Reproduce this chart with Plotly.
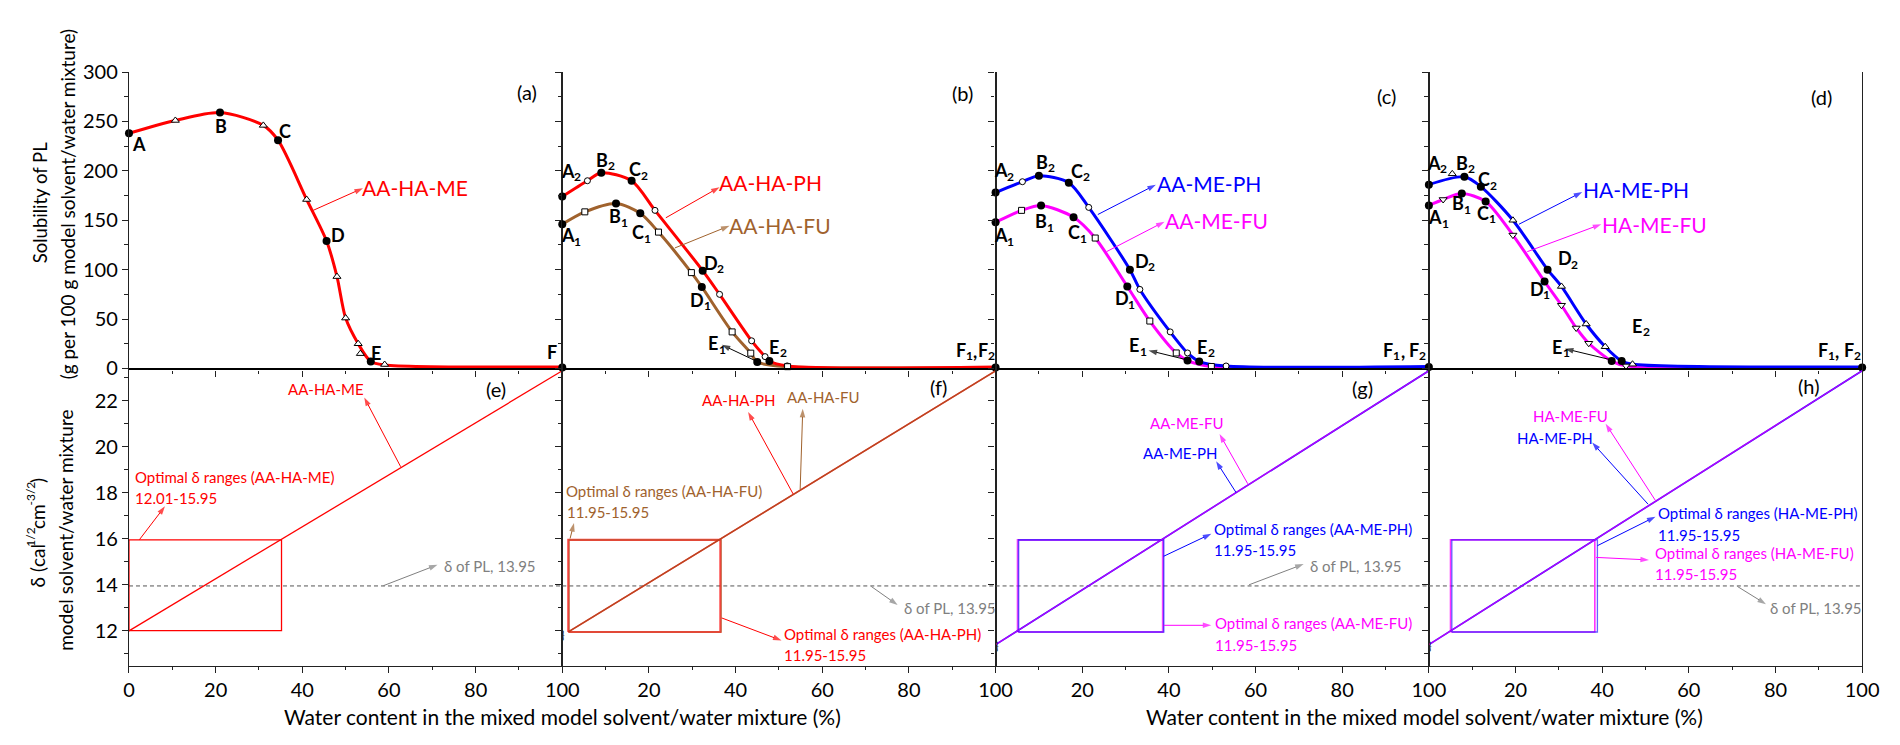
import plotly.graph_objects as go

W, H = 1900, 745
FONT = "Lato, 'Open Sans', sans-serif"
RED, BROWN, BLUE, MAG, GRAY = "#FF0000", "#A0622D", "#0000FF", "#FF00FF", "#808080"

# ---------------- solubility curves (upper row) ----------------
# (a) AA-HA-ME
a_curve_x = [0, 10.7, 21, 31, 34.4, 41, 45.6, 48, 50, 52.9, 55.8, 59, 100]
a_curve_y = [238, 251, 259, 246, 231, 171, 129, 93, 51, 25, 7, 3.5, 1.5]
a_key_x = [0, 21, 34.4, 45.6, 55.8, 100]
a_key_y = [238, 259, 231, 129, 7, 1]
a_exp_x = [10.7, 31, 41, 48, 50, 52.9, 53.4, 59]
a_exp_y = [251, 246, 171, 93, 51, 25, 15, 4]

# (b) AA-HA-PH / AA-HA-FU
b_ph_x = [0, 5.8, 9, 16, 21.4, 32.4, 36.3, 43.7, 46.8, 47.8, 51.9, 100]
b_ph_y = [174, 190, 198, 190, 160, 99, 75, 28, 12, 7.5, 2.6, 1.5]
b_fu_x = [0, 5.2, 12.4, 18, 22.2, 29.8, 32.2, 39.2, 43.5, 45, 52, 100]
b_fu_y = [146, 158.5, 167, 157, 138, 97, 82.5, 37, 15.5, 6.5, 1.8, 1]
b_key_x = [0, 9, 16, 32.4, 47.8, 0, 12.4, 18, 32.2, 45, 100]
b_key_y = [174, 198, 190, 99, 7.5, 146, 167, 157, 82.5, 6.5, 1]
b_ph_exp_x = [5.8, 21.4, 36.3, 43.7, 46.8, 51.9]
b_ph_exp_y = [190, 160, 75, 28, 12, 2.6]
b_fu_exp_x = [5.2, 22.2, 29.8, 39.2, 43.5, 52]
b_fu_exp_y = [158.5, 138, 97, 37, 15.5, 1.8]

# (c) AA-ME-PH / AA-ME-FU
c_ph_x = [0, 6.2, 10, 16.9, 21.5, 31, 33.3, 40.3, 44.3, 47, 53.2, 100]
c_ph_y = [178, 189, 195, 188, 163, 100, 80, 37, 15.7, 7, 2.5, 2]
c_fu_x = [0, 6, 10.5, 18, 23, 30.4, 35.6, 41.7, 44.3, 49.8, 100]
c_fu_y = [148, 160, 165, 153, 132, 83, 48, 15.7, 8, 2, 1]
c_key_x = [0, 10, 16.9, 31, 47, 0, 10.5, 18, 30.4, 44.3, 100]
c_key_y = [178, 195, 188, 100, 7, 148, 165, 153, 83, 8, 1.5]
c_ph_exp_x = [6.2, 21.5, 33.3, 40.3, 44.3, 53.2]
c_ph_exp_y = [189, 163, 80, 37, 15.7, 2.5]
c_fu_exp_x = [6, 23, 35.6, 41.7, 49.8]
c_fu_exp_y = [160, 132, 48, 15.7, 2]

# (d) HA-ME-PH / HA-ME-FU
d_ph_x = [0, 8.2, 12, 19.4, 27.4, 30.6, 36.3, 40.7, 44.5, 47, 100]
d_ph_y = [186, 194, 184, 150, 100, 83, 45, 22, 7.5, 4.3, 1.5]
d_fu_x = [0, 3.3, 7.6, 13.1, 19.4, 26.7, 30.6, 34, 36.9, 42.2, 45.5, 100]
d_fu_y = [165, 171, 177, 169, 135, 88, 64, 41, 25.5, 7.5, 2.6, 1]
d_key_x = [0, 8.2, 12, 27.4, 44.5, 0, 7.6, 13.1, 26.7, 42.2, 100]
d_key_y = [186, 194, 184, 100, 7.5, 165, 177, 169, 88, 7.5, 1]
d_ph_exp_x = [5.4, 19.4, 30.6, 36.3, 40.7, 47]
d_ph_exp_y = [197, 150, 83, 45, 22, 4.3]
d_fu_exp_x = [3.3, 19.4, 30.6, 34, 36.9, 45.5]
d_fu_exp_y = [171, 135, 64, 41, 25.5, 2.6]

# ---------------- solubility parameter lines (lower row) ----------------
water_ends = [0, 100]
water_ends_f = [1.4, 100]
delta_AA_HA_ME = [12.0, 23.3]
delta_AA_HA_PH = [11.95, 23.3]
delta_AA_HA_FU = [11.95, 23.3]
delta_AA_ME_PH = [11.4, 23.3]
delta_AA_ME_FU = [11.4, 23.3]
delta_HA_ME_PH = [11.4, 23.3]
delta_HA_ME_FU = [11.4, 23.3]
delta_PL = 13.95

opt_water_AA_HA_ME = [0, 35.2]
opt_delta_AA_HA_ME = [12.01, 15.95]
opt_water_AA_HA_PH = [1.4, 36.5]
opt_water_AA_HA_FU = [1.6, 36.7]
opt_water_AA_ME_PH = [5.3, 38.8]
opt_water_AA_ME_FU = [5.1, 38.6]
opt_water_HA_ME_PH = [5.3, 38.9]
opt_water_HA_ME_FU = [5.0, 38.3]
opt_delta = [11.95, 15.95]

x_ticks = [0, 20, 40, 60, 80, 100]

# ---------------- geometry ----------------
X0, PW = 124.5, 438.6
Y_TOP, Y_MID, Y_BOT = 61.0, 367.3, 674.3
SOL_RANGE = [0, 300]
DELTA_RANGE = [10.49, 23.40]

fig = go.Figure()


def ax_name(kind, i):
    return kind + ("axis" if i == 1 else f"axis{i}")


def ref(kind, i):
    return kind if i == 1 else f"{kind}{i}"


layout = {}
tick_common = dict(ticks="outside", ticklen=6, tickwidth=1.2, tickcolor="#222",
                   showline=True, linecolor="#222", linewidth=1.3,
                   showgrid=False, zeroline=False,
                   tickfont=dict(family=FONT, size=20, color="black"))

for p in range(4):
    xd = [(X0 + p * PW) / W, (X0 + (p + 1) * PW) / W]
    top_i, bot_i = p + 1, p + 5
    # upper row
    layout[ax_name("x", top_i)] = dict(
        tick_common, domain=xd, anchor=ref("y", top_i), range=[0, 100],
        tickmode="linear", tick0=0, dtick=20, showticklabels=False,
        linewidth=2.2, linecolor="black",
        minor=dict(dtick=10, ticks="outside", ticklen=3.5, tickwidth=1, tickcolor="#222"))
    layout[ax_name("y", top_i)] = dict(
        tick_common, domain=[1 - Y_MID / H, 1 - Y_TOP / H], anchor=ref("x", top_i),
        range=SOL_RANGE, tickmode="linear", tick0=0, dtick=50,
        showticklabels=(p == 0), mirror=True,
        minor=dict(dtick=25, ticks="outside", ticklen=3.5, tickwidth=1, tickcolor="#222"))
    # lower row: the first column labels 0..100, the others start at 20
    tv = x_ticks if p == 0 else x_ticks[1:]
    layout[ax_name("x", bot_i)] = dict(
        tick_common, domain=xd, anchor=ref("y", bot_i), range=[0, 100],
        tickmode="array", tickvals=tv, ticktext=[str(v) for v in tv],
        minor=dict(dtick=10, tick0=0, ticks="outside", ticklen=3.5, tickwidth=1, tickcolor="#222"))
    layout[ax_name("y", bot_i)] = dict(
        tick_common, domain=[1 - Y_BOT / H, 1 - Y_MID / H], anchor=ref("x", bot_i),
        range=DELTA_RANGE, tickmode="linear", tick0=0, dtick=2,
        showticklabels=(p == 0), mirror=True,
        minor=dict(dtick=1, tick0=0, ticks="outside", ticklen=3.5, tickwidth=1, tickcolor="#222"))
    # top edge of the upper row with inward ticks
    layout[ax_name("x", 9 + p)] = dict(
        tick_common, overlaying=ref("x", top_i), anchor=ref("y", top_i), side="top",
        range=[0, 100], tickmode="linear", tick0=0, dtick=20, ticks="inside",
        showticklabels=False,
        minor=dict(dtick=10, ticks="inside", ticklen=3.5, tickwidth=1, tickcolor="#222"))

# right edge of the last column with inward ticks
layout[ax_name("y", 9)] = dict(
    tick_common, overlaying="y4", anchor="x4", side="right", range=SOL_RANGE,
    tickmode="linear", tick0=0, dtick=50, ticks="inside", showticklabels=False,
    minor=dict(dtick=25, ticks="inside", ticklen=3.5, tickwidth=1, tickcolor="#222"))
layout[ax_name("y", 10)] = dict(
    tick_common, overlaying="y8", anchor="x8", side="right", range=DELTA_RANGE,
    tickmode="linear", tick0=0, dtick=2, ticks="inside", showticklabels=False,
    minor=dict(dtick=1, tick0=0, ticks="inside", ticklen=3.5, tickwidth=1, tickcolor="#222"))


def curve(i, x, y, color, width=3):
    fig.add_trace(go.Scatter(x=x, y=y, mode="lines", xaxis=ref("x", i), yaxis=ref("y", i),
                             line=dict(color=color, width=width, shape="spline", smoothing=0.8),
                             showlegend=False, hoverinfo="skip"))


def open_pts(i, x, y, symbol, size=7):
    fig.add_trace(go.Scatter(x=x, y=y, mode="markers", xaxis=ref("x", i), yaxis=ref("y", i),
                             marker=dict(symbol=symbol, size=size, color="white",
                                         line=dict(color="black", width=1)),
                             showlegend=False, hoverinfo="skip", cliponaxis=False))


def key_pts(i, x, y):
    fig.add_trace(go.Scatter(x=x, y=y, mode="markers", xaxis=ref("x", i), yaxis=ref("y", i),
                             marker=dict(symbol="circle", size=8, color="black"),
                             showlegend=False, hoverinfo="skip", cliponaxis=False))


def straight(i, x, y, color, width=1.4, opacity=1.0, dash=None):
    fig.add_trace(go.Scatter(x=x, y=y, mode="lines", xaxis=ref("x", i), yaxis=ref("y", i),
                             line=dict(color=color, width=width, dash=dash), opacity=opacity,
                             showlegend=False, hoverinfo="skip", cliponaxis=False))


def box(i, wx, dy, color, width=1.4, opacity=1.0):
    straight(i, [wx[0], wx[1], wx[1], wx[0], wx[0]], [dy[0], dy[0], dy[1], dy[1], dy[0]],
             color, width, opacity)


def arr(i, x0, y0, x1, y1, color, width=1):
    """Pointer line from (x0, y0) with an arrow head at (x1, y1)."""
    fig.add_trace(go.Scatter(x=[x0, x1], y=[y0, y1], mode="lines+markers",
                             xaxis=ref("x", i), yaxis=ref("y", i),
                             line=dict(color=color, width=width),
                             marker=dict(symbol="arrow", size=[0, 9], color=color,
                                         angleref="previous", line=dict(width=0)),
                             showlegend=False, hoverinfo="skip", cliponaxis=False))


# upper row
curve(1, a_curve_x, a_curve_y, RED)
open_pts(1, a_exp_x, a_exp_y, "triangle-up")
key_pts(1, a_key_x, a_key_y)

curve(2, b_fu_x, b_fu_y, BROWN)
curve(2, b_ph_x, b_ph_y, RED)
open_pts(2, b_ph_exp_x, b_ph_exp_y, "circle", 6)
open_pts(2, b_fu_exp_x, b_fu_exp_y, "square", 6)
key_pts(2, b_key_x, b_key_y)

curve(3, c_fu_x, c_fu_y, MAG)
curve(3, c_ph_x, c_ph_y, BLUE)
open_pts(3, c_ph_exp_x, c_ph_exp_y, "circle", 6)
open_pts(3, c_fu_exp_x, c_fu_exp_y, "square", 6)
key_pts(3, c_key_x, c_key_y)

curve(4, d_fu_x, d_fu_y, MAG)
curve(4, d_ph_x, d_ph_y, BLUE)
open_pts(4, d_ph_exp_x, d_ph_exp_y, "triangle-up", 7)
open_pts(4, d_fu_exp_x, d_fu_exp_y, "triangle-down", 7)
key_pts(4, d_key_x, d_key_y)

# lower row
for i in range(5, 9):
    straight(i, water_ends, [delta_PL, delta_PL], "#555555", 1, dash="4px,3px")

straight(5, water_ends, delta_AA_HA_ME, RED, 1.3)
box(5, opt_water_AA_HA_ME, opt_delta_AA_HA_ME, RED, 1.3)

box(6, opt_water_AA_HA_PH, opt_delta, RED, 2.2, 0.75)
box(6, opt_water_AA_HA_FU, opt_delta, BROWN, 1.2, 0.6)
straight(6, water_ends_f, delta_AA_HA_PH, RED, 1.5)
straight(6, water_ends_f, delta_AA_HA_FU, BROWN, 1.5, 0.7)

box(7, opt_water_AA_ME_FU, opt_delta, MAG, 2, 0.7)
box(7, opt_water_AA_ME_PH, opt_delta, BLUE, 1.6, 0.6)
straight(7, water_ends, delta_AA_ME_PH, BLUE, 1.6)
straight(7, water_ends, delta_AA_ME_FU, MAG, 1.4, 0.7)

box(8, opt_water_HA_ME_FU, opt_delta, MAG, 1.6, 0.8)
box(8, opt_water_HA_ME_PH, opt_delta, BLUE, 1.3, 0.6)
straight(8, water_ends, delta_HA_ME_PH, BLUE, 1.6)
straight(8, water_ends, delta_HA_ME_FU, MAG, 1.4, 0.7)

# ---------------- annotations ----------------
ann = []


def txt(i, x, y, text, color="black", size=17, bold=False, xanchor="center", dx=0, dy=0):
    if bold:
        text = f"<b>{text}</b>"
    ann.append(dict(x=x, y=y, xref=ref("x", i), yref=ref("y", i), text=text, showarrow=False,
                    xanchor=xanchor, yanchor="middle", xshift=dx, yshift=dy,
                    font=dict(family=FONT, size=size, color=color)))


def paper_txt(px, py, text, size=20, angle=0, color="black"):
    ann.append(dict(x=px / W, y=1 - py / H, xref="paper", yref="paper", text=text,
                    showarrow=False, xanchor="center", yanchor="middle", textangle=angle,
                    font=dict(family=FONT, size=size, color=color)))


LET, SUB = 18, 12


def point_label(i, x, y, letter, n=None):
    """Bold point letter with an optional subscript index."""
    if n is None:
        txt(i, x, y, letter, size=LET, bold=True)
    else:
        txt(i, x, y, letter, size=LET, bold=True, dx=-3.5)
        txt(i, x, y, str(n), size=SUB, bold=True, dx=6.2, dy=-6)


def pair_label(i, x, y, spaced=True):
    """Bold 'F1, F2' label for the end points of two curves."""
    offs = [-16.5, -7.8, -2, 9.5, 18.2] if spaced else [-14.5, -5.8, 0, 7.5, 16.2]
    txt(i, x, y, "F", size=LET, bold=True, dx=offs[0])
    txt(i, x, y, "1", size=SUB, bold=True, dx=offs[1], dy=-6)
    txt(i, x, y, ",", size=LET, bold=True, dx=offs[2], dy=-1)
    txt(i, x, y, "F", size=LET, bold=True, dx=offs[3])
    txt(i, x, y, "2", size=SUB, bold=True, dx=offs[4], dy=-6)


# point letters
for lab, x, y in [("A", 2.2, 227.6), ("B", 21.3, 245), ("C", 36, 240), ("D", 48.3, 135.5),
                  ("E", 57, 16), ("F", 97.6, 17)]:
    point_label(1, x, y, lab)

for i, pts in [
    (2, [("A", 2, 2.1, 200), ("B", 2, 10, 211), ("C", 2, 17.5, 201.5),
         ("A", 1, 2.1, 134.6), ("B", 1, 12.9, 154), ("C", 1, 18.2, 137.8),
         ("D", 2, 35.1, 106.9), ("D", 1, 32, 69.3), ("E", 1, 35.6, 25.3),
         ("E", 2, 49.7, 22)]),
    (3, [("A", 2, 2.1, 200.8), ("B", 2, 11.5, 209), ("C", 2, 19.5, 200),
         ("A", 1, 2.1, 135), ("B", 1, 11.3, 149), ("C", 1, 18.8, 137.8),
         ("D", 2, 34.5, 109), ("D", 1, 30, 71), ("E", 1, 32.7, 23.7),
         ("E", 2, 48.4, 22)]),
    (4, [("A", 2, 2, 208), ("B", 2, 8.4, 208), ("C", 2, 13.5, 191.6),
         ("A", 1, 2.3, 153), ("B", 1, 7.6, 167), ("C", 1, 13.2, 157.4),
         ("D", 2, 32.2, 111.7), ("D", 1, 25.8, 80.7), ("E", 2, 48.9, 43.2),
         ("E", 1, 30.3, 22)]),
]:
    for lab, n, x, y in pts:
        point_label(i, x, y, lab, n)

pair_label(2, 95.3, 18.8, spaced=False)
pair_label(3, 94.4, 18.8)
pair_label(4, 94.7, 18.8)

arr(2, 44.5, 8, 36.8, 24, "black")
arr(3, 44.1, 8.8, 35.3, 18.3, "black")
arr(4, 42, 8.8, 31.4, 20, "black")

# system names with pointers (upper row)
txt(1, 66.1, 183.5, "AA-HA-ME", RED, 21)
arr(1, 42.5, 160, 54, 182.5, RED)
txt(2, 48, 188.4, "AA-HA-PH", RED, 21)
arr(2, 23.9, 152.5, 36.3, 183.5, RED)
txt(2, 50.3, 144.4, "AA-HA-FU", BROWN, 21)
arr(2, 26, 122, 38.6, 144.4, BROWN)
txt(3, 49.2, 186.7, "AA-ME-PH", BLUE, 21)
arr(3, 23.6, 155.8, 37, 186, BLUE)
txt(3, 51, 149.3, "AA-ME-FU", MAG, 21)
arr(3, 25.6, 118.2, 39, 148.6, MAG)
txt(4, 47.8, 180.9, "HA-ME-PH", BLUE, 21)
arr(4, 20.8, 146, 35.4, 178.6, BLUE)
txt(4, 52.1, 146, "HA-ME-FU", MAG, 21)
arr(4, 22.7, 118.2, 39.8, 146, MAG)

# axis break marks on the lower-row left edges
for i, y in [(6, 11.85), (7, 11.35), (8, 11.35)]:
    txt(i, 0, y, "}", "#222", 12, dx=1)

# lower row labels
S = 15
txt(5, 45.4, 22.49, "AA-HA-ME", RED, S)
arr(5, 62.7, 19.13, 54.3, 22.14, RED)
txt(5, 0.9, 18.67, "Optimal δ ranges (AA-HA-ME)", RED, S, xanchor="left")
txt(5, 0.9, 17.77, "12.01-15.95", RED, S, xanchor="left")
arr(5, 2.4, 15.96, 8.3, 17.41, RED)
txt(5, 72.3, 14.8, "δ of PL, 13.95", GRAY, S, xanchor="left")
arr(5, 58.7, 13.96, 71.2, 14.87, GRAY)

txt(6, 40.7, 22.03, "AA-HA-PH", RED, S)
arr(6, 53.3, 17.94, 42.9, 21.51, RED)
txt(6, 60.4, 22.14, "AA-HA-FU", BROWN, S)
arr(6, 54.9, 18.15, 55.5, 21.65, BROWN)
txt(6, 0.5, 18.08, "Optimal δ ranges (AA-HA-FU)", BROWN, S, xanchor="left")
txt(6, 0.7, 17.17, "11.95-15.95", BROWN, S, xanchor="left")
arr(6, 1.8, 16.01, 2.7, 16.68, BROWN)
txt(6, 50.7, 11.86, "Optimal δ ranges (AA-HA-PH)", RED, S, xanchor="left")
txt(6, 50.7, 10.95, "11.95-15.95", RED, S, xanchor="left")
arr(6, 36.8, 12.56, 50.6, 11.58, RED)
txt(6, 78.3, 12.98, "δ of PL, 13.95", GRAY, S, xanchor="left")
arr(6, 71.3, 13.93, 77.4, 13.12, GRAY)

txt(7, 44.1, 21.05, "AA-ME-FU", MAG, S)
arr(7, 58.2, 18.39, 51.7, 20.55, MAG)
txt(7, 42.6, 19.72, "AA-ME-PH", BLUE, S)
arr(7, 55.5, 18.01, 50.9, 19.37, BLUE)
txt(7, 50, 16.41, "Optimal δ ranges (AA-ME-PH)", BLUE, S, xanchor="left")
txt(7, 50, 15.5, "11.95-15.95", BLUE, S, xanchor="left")
arr(7, 38.8, 15.24, 49.8, 16.22, BLUE)
txt(7, 72.2, 14.82, "δ of PL, 13.95", GRAY, S, xanchor="left")
arr(7, 58.5, 14.0, 71.1, 14.9, GRAY)
txt(7, 50.2, 12.32, "Optimal δ ranges (AA-ME-FU)", MAG, S, xanchor="left")
txt(7, 50.2, 11.37, "11.95-15.95", MAG, S, xanchor="left")
arr(7, 38.8, 12.24, 49.8, 12.24, MAG)

txt(8, 32.7, 21.33, "HA-ME-FU", MAG, S)
arr(8, 52.3, 17.66, 40.8, 21.0, MAG)
txt(8, 29.1, 20.39, "HA-ME-PH", BLUE, S)
arr(8, 50.6, 17.5, 37.7, 20.18, BLUE)
txt(8, 52.5, 17.1, "Optimal δ ranges (HA-ME-PH)", BLUE, S, xanchor="left")
txt(8, 52.5, 16.15, "11.95-15.95", BLUE, S, xanchor="left")
arr(8, 38.9, 15.7, 52.3, 16.96, BLUE)
txt(8, 51.8, 15.36, "Optimal δ ranges (HA-ME-FU)", MAG, S, xanchor="left")
txt(8, 51.8, 14.45, "11.95-15.95", MAG, S, xanchor="left")
arr(8, 38.6, 15.19, 50.8, 15.08, MAG)
txt(8, 78.2, 12.98, "δ of PL, 13.95", GRAY, S, xanchor="left")
arr(8, 71.2, 13.93, 77.8, 13.16, GRAY)

# panel letters
for t, x, y in [("(a)", 527, 82), ("(b)", 968, 83), ("(c)", 1397, 86), ("(d)", 1838, 87),
                ("(e)", 496, 388.6), ("(f)", 944, 386.7), ("(g)", 1373, 387), ("(h)", 1825, 385)]:
    paper_txt(x, y, t, 20)

# axis titles
XT = "Water content in the mixed model solvent/water mixture (%)"
paper_txt(563, 726.7, XT, 21)
paper_txt(1436, 726.7, XT, 21)
paper_txt(34, 196, "Solubility of PL", 18.5, -90)
paper_txt(62.5, 198, "(g per 100 g model solvent/water mixture)", 19, -90)
paper_txt(60.7, 534, "model solvent/water mixture", 19, -90)

# rotated delta unit title, built from pieces so the exponents sit raised
unit_pieces = [("δ (cal", 19, 41.4, 0), ("1/2", 12, 18.2, -7), ("cm", 19, 24.3, 0),
               ("-3/2", 12, 22.4, -7), (")", 19, 5.5, 0)]
total = sum(p[2] for p in unit_pieces)
start = 536 + total / 2
acc = 0
for text, size, width, raise_px in unit_pieces:
    paper_txt(32 + raise_px, start - acc - width / 2, text, size, -90)
    acc += width

fig.update_layout(
    **layout,
    annotations=ann,
    width=W, height=H,
    margin=dict(l=0, r=0, t=0, b=0),
    paper_bgcolor="white", plot_bgcolor="white",
    showlegend=False,
    font=dict(family=FONT, color="black"),
)

fig.write_html("out.html", config={"displayModeBar": False})
